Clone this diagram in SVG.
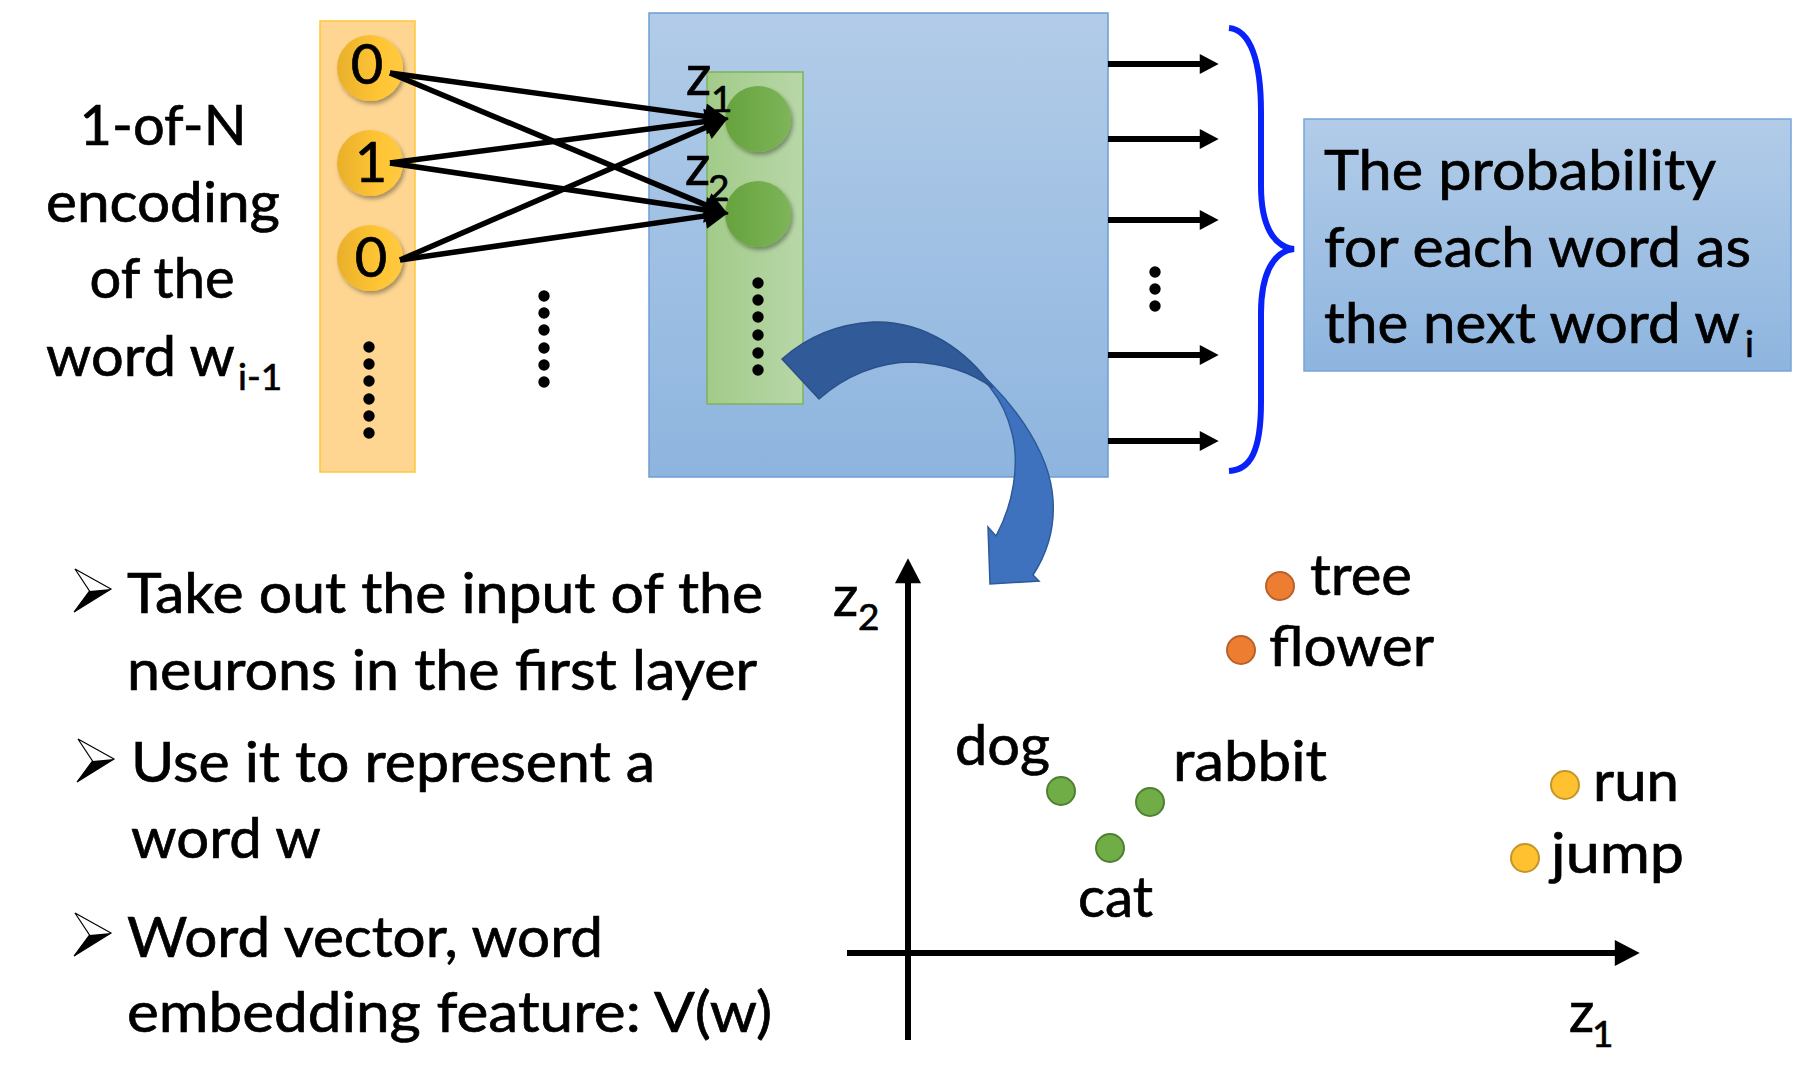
<svg xmlns="http://www.w3.org/2000/svg" width="1818" height="1076" viewBox="0 0 1818 1076">
<style>
.t{font-family:Lato,"Liberation Sans",sans-serif;fill:#000;stroke:#000;stroke-width:0.7}
.big{font-size:56px}
.sub{font-size:37px}
.dot{fill:#000}
.conn{stroke:#000;stroke-width:5.5;fill:none}
.out{stroke:#000;stroke-width:6;fill:none}
.axis{stroke:#000;stroke-width:6;fill:none}
.pt-o{fill:#ED7D31;stroke:#B9612A;stroke-width:2}
.pt-g{fill:#70AD47;stroke:#507E32;stroke-width:2}
.pt-y{fill:#FFC130;stroke:#C4952A;stroke-width:2}
</style>
<defs>
<linearGradient id="gBlue" x1="0" y1="0" x2="0" y2="1"><stop offset="0" stop-color="#B2CCE8"/><stop offset="1" stop-color="#8EB5DF"/></linearGradient>
<linearGradient id="gYel" x1="0" y1="0" x2="1" y2="0"><stop offset="0" stop-color="#E8B02B"/><stop offset="0.6" stop-color="#FFC434"/><stop offset="1" stop-color="#FFC93F"/></linearGradient>
<linearGradient id="gGreenRect" x1="0" y1="0" x2="1" y2="0"><stop offset="0" stop-color="#A2CB89"/><stop offset="1" stop-color="#B8D7A8"/></linearGradient>
<linearGradient id="gGreen" x1="0" y1="0" x2="1" y2="0"><stop offset="0" stop-color="#66A23E"/><stop offset="1" stop-color="#7DB558"/></linearGradient>
<filter id="shadow" x="-30%" y="-30%" width="160%" height="160%"><feDropShadow dx="2" dy="3" stdDeviation="2" flood-color="#000" flood-opacity="0.35"/></filter>
<marker id="ahConn" markerUnits="userSpaceOnUse" markerWidth="26" markerHeight="26" refX="2" refY="0" viewBox="0 -12 22 24" orient="auto"><path d="M0,-12 L22,0 L0,12 Z" fill="#000"/></marker>
<marker id="ahOut" markerUnits="userSpaceOnUse" markerWidth="20" markerHeight="20" refX="2" refY="0" viewBox="0 -9 17 18" orient="auto"><path d="M0,-9 L17,0 L0,9 Z" fill="#000"/></marker>
<marker id="ahAxis" markerUnits="userSpaceOnUse" markerWidth="26" markerHeight="26" refX="2" refY="0" viewBox="0 -12 23 24" orient="auto"><path d="M0,-12 L23,0 L0,12 Z" fill="#000"/></marker>
</defs>
<rect width="1818" height="1076" fill="#fff"/>

<g id="input-label">
<text class="t big" x="163" y="145" text-anchor="middle">1-of-N</text>
<text class="t big" x="46" y="222" textLength="234" lengthAdjust="spacingAndGlyphs">encoding</text>
<text class="t big" x="162" y="298" text-anchor="middle">of the</text>
<text class="t big" x="46" y="376" textLength="189" lengthAdjust="spacingAndGlyphs">word w</text>
<text class="t sub" x="238" y="390">i-1</text>
</g>

<g id="input-layer">
<rect x="320" y="21" width="95" height="451" fill="#FED692" stroke="#FFC83A" stroke-width="1.5"/>
<circle cx="370" cy="68" r="33" fill="url(#gYel)" filter="url(#shadow)"/>
<circle cx="370" cy="163" r="33" fill="url(#gYel)" filter="url(#shadow)"/>
<circle cx="370" cy="258" r="33" fill="url(#gYel)" filter="url(#shadow)"/>
<text class="t big" x="367" y="84" text-anchor="middle">0</text>
<text class="t big" x="371" y="182" text-anchor="middle">1</text>
<text class="t big" x="371" y="277" text-anchor="middle">0</text>
<circle class="dot" cx="369" cy="347" r="5.7"/><circle class="dot" cx="369" cy="364" r="5.7"/><circle class="dot" cx="369" cy="381" r="5.7"/><circle class="dot" cx="369" cy="399" r="5.7"/><circle class="dot" cx="369" cy="416" r="5.7"/><circle class="dot" cx="369" cy="433" r="5.7"/>
</g>

<g id="middle-dots">
<circle class="dot" cx="544" cy="296" r="5.7"/><circle class="dot" cx="544" cy="313" r="5.7"/><circle class="dot" cx="544" cy="330" r="5.7"/><circle class="dot" cx="544" cy="348" r="5.7"/><circle class="dot" cx="544" cy="365" r="5.7"/><circle class="dot" cx="544" cy="382" r="5.7"/>
</g>

<g id="network">
<rect x="649" y="13" width="459" height="464" fill="url(#gBlue)" stroke="#6C9ED5" stroke-width="1.5"/>
</g>

<g id="hidden-layer">
<rect x="707" y="72" width="96" height="332" fill="url(#gGreenRect)" stroke="#7CB45A" stroke-width="1.5"/>
<circle cx="758" cy="119" r="33" fill="url(#gGreen)" filter="url(#shadow)"/>
<circle cx="758" cy="214" r="33" fill="url(#gGreen)" filter="url(#shadow)"/>
<text class="t big" x="686" y="95">z</text>
<text class="t sub" x="711" y="112">1</text>
<text class="t big" x="685" y="185">z</text>
<text class="t sub" x="708" y="201">2</text>
<circle class="dot" cx="758" cy="283" r="5.7"/><circle class="dot" cx="758" cy="300" r="5.7"/><circle class="dot" cx="758" cy="317" r="5.7"/><circle class="dot" cx="758" cy="335" r="5.7"/><circle class="dot" cx="758" cy="353" r="5.7"/><circle class="dot" cx="758" cy="370" r="5.7"/>
</g>

<g id="connectors">
<line class="conn" x1="390" y1="73" x2="707.2" y2="116.6" marker-end="url(#ahConn)"/>
<line class="conn" x1="390" y1="73" x2="708.4" y2="206.1" marker-end="url(#ahConn)"/>
<line class="conn" x1="390" y1="163" x2="707.2" y2="121.3" marker-end="url(#ahConn)"/>
<line class="conn" x1="390" y1="163" x2="707.2" y2="210.3" marker-end="url(#ahConn)"/>
<line class="conn" x1="400" y1="260" x2="708.5" y2="126.2" marker-end="url(#ahConn)"/>
<line class="conn" x1="400" y1="260" x2="707.2" y2="215.6" marker-end="url(#ahConn)"/>
<line class="out" x1="1108" y1="64" x2="1202" y2="64" marker-end="url(#ahOut)"/>
<line class="out" x1="1108" y1="139" x2="1202" y2="139" marker-end="url(#ahOut)"/>
<line class="out" x1="1108" y1="220" x2="1202" y2="220" marker-end="url(#ahOut)"/>
<line class="out" x1="1108" y1="355" x2="1202" y2="355" marker-end="url(#ahOut)"/>
<line class="out" x1="1108" y1="441" x2="1202" y2="441" marker-end="url(#ahOut)"/>
</g>

<g id="output-dots">
<circle class="dot" cx="1155" cy="272" r="5.7"/><circle class="dot" cx="1155" cy="289" r="5.7"/><circle class="dot" cx="1155" cy="306" r="5.7"/>
</g>

<g id="brace">
<path d="M1229,28 C1250,30 1261,60 1261,112 L1261,186 C1261,226 1274,247 1294,249 C1274,251 1261,273 1261,313 L1261,402 C1261,452 1250,470 1229,471" fill="none" stroke="#0A22FA" stroke-width="6"/>
</g>

<g id="output-box">
<rect x="1304" y="119" width="487" height="252" fill="url(#gBlue)" stroke="#77A5D8" stroke-width="1.5"/>
<text class="t big" x="1324" y="190" textLength="392" lengthAdjust="spacingAndGlyphs">The probability</text>
<text class="t big" x="1324" y="267" textLength="427" lengthAdjust="spacingAndGlyphs">for each word as</text>
<text class="t big" x="1324" y="343" textLength="416" lengthAdjust="spacingAndGlyphs">the next word w</text>
<text class="t sub" x="1745" y="357">i</text>
</g>

<g id="curved-arrow">
<path d="M960,356 C1010,395 1050,450 1053,500 C1055,530 1046,555 1033,575 L1039,581 L990,584 L988,527 L996,536 C1013,505 1020,465 1012,433 C1007,413 1000,400 992,390 C985,380 975,370 960,356 Z" fill="#3E72BF" stroke="#2E5A98" stroke-width="1.5"/>
<path d="M782,359 C808,336 838,324 873,322 C925,320 968,352 993,388 C972,373 945,363 912,362 C878,362 845,376 819,399 Z" fill="#305B98" stroke="#2B5189" stroke-width="1.5"/>
</g>

<g id="bullets">
<g id="bullet-1">
<path d="M75,569 L111,589 L74,612 L89.5,591 Z" fill="#fff" stroke="#000" stroke-width="1.2"/>
<path d="M89.5,591 L111,589 L74,612 Z" fill="#000"/>
<text class="t big" x="127" y="613" textLength="636" lengthAdjust="spacingAndGlyphs">Take out the input of the</text>
<text class="t big" x="127" y="690" textLength="630" lengthAdjust="spacingAndGlyphs">neurons in the first layer</text>
</g>
<g id="bullet-2">
<path d="M78,739 L114,759 L77,782 L92.5,761 Z" fill="#fff" stroke="#000" stroke-width="1.2"/>
<path d="M92.5,761 L114,759 L77,782 Z" fill="#000"/>
<text class="t big" x="131" y="782" textLength="524" lengthAdjust="spacingAndGlyphs">Use it to represent a</text>
<text class="t big" x="131" y="858" textLength="190" lengthAdjust="spacingAndGlyphs">word w</text>
</g>
<g id="bullet-3">
<path d="M75,913 L111,933 L74,956 L89.5,935 Z" fill="#fff" stroke="#000" stroke-width="1.2"/>
<path d="M89.5,935 L111,933 L74,956 Z" fill="#000"/>
<text class="t big" x="127" y="957" textLength="476" lengthAdjust="spacingAndGlyphs">Word vector, word</text>
<text class="t big" x="127" y="1032" textLength="645" lengthAdjust="spacingAndGlyphs">embedding feature: V(w)</text>
</g>
</g>

<g id="axes">
<line class="axis" x1="908" y1="1040" x2="908" y2="581" marker-end="url(#ahAxis)"/>
<line class="axis" x1="847" y1="953" x2="1617" y2="953" marker-end="url(#ahAxis)"/>
<text class="t big" x="833" y="616">z</text>
<text class="t sub" x="858" y="630">2</text>
<text class="t big" x="1569" y="1032">z</text>
<text class="t sub" x="1592" y="1047">1</text>
</g>

<g id="points">
<g id="pt-tree"><circle class="pt-o" cx="1280" cy="586" r="14"/><text class="t big" x="1310" y="595" textLength="102" lengthAdjust="spacingAndGlyphs">tree</text></g>
<g id="pt-flower"><circle class="pt-o" cx="1241" cy="650" r="14"/><text class="t big" x="1269" y="666" textLength="165" lengthAdjust="spacingAndGlyphs">flower</text></g>
<g id="pt-dog"><circle class="pt-g" cx="1061" cy="791" r="14"/><text class="t big" x="955" y="765" textLength="95" lengthAdjust="spacingAndGlyphs">dog</text></g>
<g id="pt-rabbit"><circle class="pt-g" cx="1150" cy="802" r="14"/><text class="t big" x="1173" y="781" textLength="154" lengthAdjust="spacingAndGlyphs">rabbit</text></g>
<g id="pt-cat"><circle class="pt-g" cx="1110" cy="848" r="14"/><text class="t big" x="1078" y="917" textLength="75" lengthAdjust="spacingAndGlyphs">cat</text></g>
<g id="pt-run"><circle class="pt-y" cx="1565" cy="785" r="14"/><text class="t big" x="1593" y="801" textLength="86" lengthAdjust="spacingAndGlyphs">run</text></g>
<g id="pt-jump"><circle class="pt-y" cx="1525" cy="858" r="14"/><text class="t big" x="1551" y="873" textLength="133" lengthAdjust="spacingAndGlyphs">jump</text></g>
</g>
</svg>
